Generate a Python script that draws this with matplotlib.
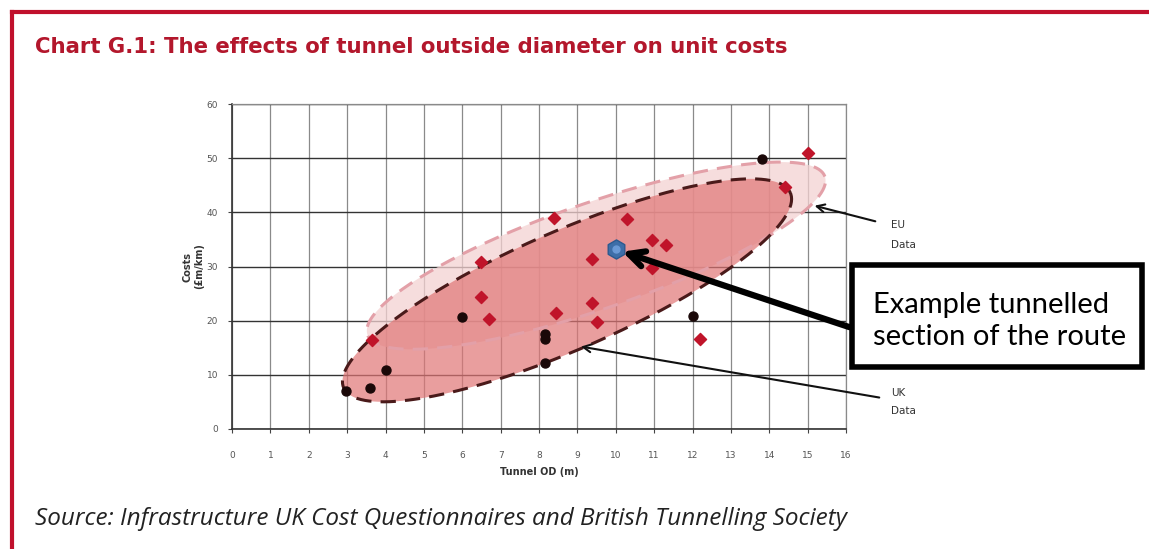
import numpy as np
import matplotlib
matplotlib.use("Agg")
import matplotlib.pyplot as plt
from matplotlib.lines import Line2D
from matplotlib.patches import Rectangle

# === DATA ===
uk_x = [2.98, 3.6, 4.0, 6.0, 8.15, 8.15, 8.15, 12.0, 13.8]
uk_y = [7.0, 7.5, 10.9, 20.7, 17.6, 16.6, 12.2, 20.9, 49.9]

eu_x = [3.65, 6.5, 6.5, 6.7, 8.4, 8.45, 9.38, 9.38, 9.5, 10.3, 10.95, 10.95, 11.3, 12.2, 14.4, 15.0]
eu_y = [16.4, 30.9, 24.4, 20.3, 39.0, 21.4, 31.4, 23.3, 19.8, 38.8, 34.9, 29.8, 34.0, 16.6, 44.7, 51.0]

example_x = [10.0]
example_y = [33.2]

x_ticks = list(range(0, 17))
y_ticks = list(range(0, 61, 10))

# ellipse envelopes: centre, tip of major axis (data units), half-width in pixels
uk_centre, uk_tip, uk_halfwidth = (8.73, 25.6), (14.55, 43.6), 59
eu_centre, eu_tip, eu_halfwidth = (9.49, 32.0), (15.45, 46.6), 53

title = "Chart G.1: The effects of tunnel outside diameter on unit costs"
source = "Source: Infrastructure UK Cost Questionnaires and British Tunnelling Society"

# === FIGURE ===
W, H = 1149, 549
fig = plt.figure(figsize=(W / 100, H / 100), dpi=100)
ax_box = [232 / W, 1 - 429 / H, (846 - 232) / W, (429 - 104) / H]
ax = fig.add_axes(ax_box)
ax.set_xlim(0, 16)
ax.set_ylim(0, 60)
ax.set_xticks(x_ticks)
ax.set_yticks(y_ticks)
ax.tick_params(labelsize=6.5, labelcolor="#555555", length=3, color="#444444")
ax.tick_params(axis="x", pad=13)
ax.tick_params(axis="y", pad=7)
ax.grid(axis="x", color="#8a8a8a", lw=0.9)
ax.grid(axis="y", color="#333333", lw=1.0)
ax.set_axisbelow(True)
for side in ["left", "bottom"]:
    ax.spines[side].set_color("#333333")
    ax.spines[side].set_linewidth(1.2)
for side in ["top", "right"]:
    ax.spines[side].set_color("#8a8a8a")
    ax.spines[side].set_linewidth(0.9)

ax.set_xlabel("Tunnel OD (m)", fontsize=7, fontweight="bold", color="#333333", labelpad=5)
ax.set_ylabel("Costs\n(£m/km)", fontsize=7, fontweight="bold", color="#333333", labelpad=2)

# px per data unit, for drawing ellipses that look right on screen
sx = ax_box[2] * W / 16
sy = ax_box[3] * H / 60


def ellipse_pts(centre, tip, half_px, n=300):
    c = np.array(centre)
    u = (np.array(tip) - c) * [sx, sy]
    a = np.hypot(*u)
    e1 = u / a
    e2 = np.array([-e1[1], e1[0]])
    t = np.linspace(0, 2 * np.pi, n)
    pts = np.outer(a * np.cos(t), e1) + np.outer(half_px * np.sin(t), e2)
    return c[0] + pts[:, 0] / sx, c[1] + pts[:, 1] / sy


ex, ey = ellipse_pts(eu_centre, eu_tip, eu_halfwidth)
ux, uy = ellipse_pts(uk_centre, uk_tip, uk_halfwidth)

ax.fill(ex, ey, color="#f4d2d2", alpha=0.75, lw=0, zorder=2)
ax.fill(ux, uy, color="#e07575", alpha=0.7, lw=0, zorder=2)
ax.plot(ex, ey, color="#e3a0a8", lw=2.2, ls=(0, (5, 3)), zorder=3)
ax.plot(ux, uy, color="#4a1a1a", lw=2.2, ls=(0, (5, 3)), zorder=3)

ax.scatter(eu_x, eu_y, marker="D", s=38, color="#c0142a", zorder=4)
ax.scatter(uk_x, uk_y, marker="o", s=42, color="#1a0808", zorder=4)
ax.scatter(example_x, example_y, marker="h", s=190, color="#3d6ea8",
           edgecolor="#2b5a90", lw=1, zorder=5)
ax.scatter(example_x, example_y, marker="o", s=25, color="#6a9ad6", zorder=6)

# === ANNOTATIONS ===
ax.annotate("", xy=(15.11, 41.35), xycoords="data", xytext=(878, H - 222),
            textcoords="figure pixels",
            arrowprops=dict(arrowstyle="->", color="#111111", lw=1.5,
                            mutation_scale=14))
ax.annotate("", xy=(9.02, 15.3), xycoords="data", xytext=(882, H - 398),
            textcoords="figure pixels",
            arrowprops=dict(arrowstyle="->", color="#111111", lw=1.5,
                            mutation_scale=14))
ax.annotate("", xy=(example_x[0] + 0.1, example_y[0] - 0.3), xycoords="data",
            xytext=(852, H - 328), textcoords="figure pixels",
            arrowprops=dict(arrowstyle="->", color="black", lw=4.5,
                            mutation_scale=28), zorder=7)

fig.text(891 / W, 1 - 235 / H, "EU\nData", fontsize=7.5, color="#333333",
         va="center", ha="left", linespacing=2.2)
fig.text(891 / W, 1 - 402 / H, "UK\nData", fontsize=7.5, color="#333333",
         va="center", ha="left", linespacing=1.9)

fig.add_artist(Rectangle((852 / W, 1 - 367 / H), (1142 - 852) / W, (367 - 265) / H,
                         transform=fig.transFigure, facecolor="white",
                         edgecolor="black", lw=4, zorder=8))
fig.text(873 / W, 1 - 321 / H, "Example tunnelled\nsection of the route",
         fontsize=21, family="Lato", color="black", va="center", ha="left",
         linespacing=1.3, zorder=9)

# title / source / frame
fig.text(35 / W, 1 - 47 / H, title, fontsize=15.3, fontweight="bold",
         family="DejaVu Sans", color="#b3172c", va="center", ha="left")
fig.text(35 / W, 1 - 519 / H, source, fontsize=17.5, style="italic",
         family="Open Sans", color="#222222", va="center", ha="left")

fig.add_artist(Line2D([12 / W, 1], [1 - 12 / H] * 2, transform=fig.transFigure,
                      color="#c0102c", lw=3))
fig.add_artist(Line2D([12 / W] * 2, [0, 1 - 12 / H], transform=fig.transFigure,
                      color="#c0102c", lw=3))

fig.savefig("out.png", dpi=100)
